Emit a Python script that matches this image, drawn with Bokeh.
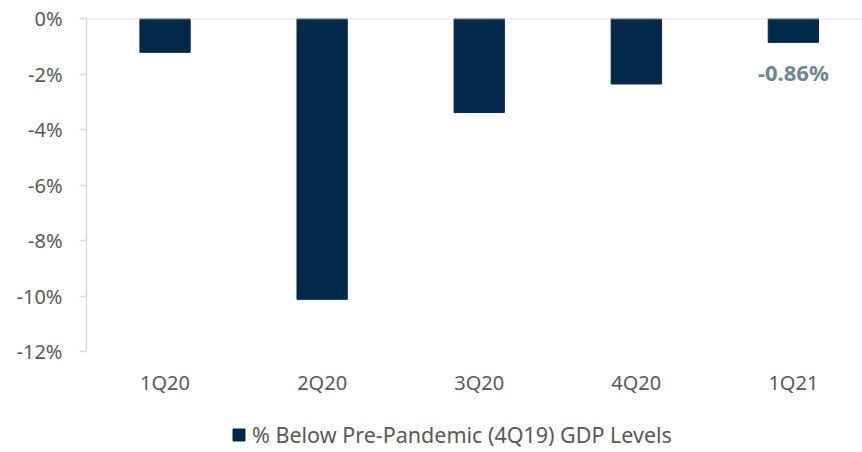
from bokeh.plotting import figure
from bokeh.layouts import column
from bokeh.models import (ColumnDataSource, Range1d, FixedTicker, PrintfTickFormatter,
                          Span, Legend, LegendItem)
from bokeh.core.properties import value
from bokeh.embed import file_html
from bokeh.resources import INLINE

categories = ["1Q20", "2Q20", "3Q20", "4Q20", "1Q21"]
gdp_gap = [-1.22, -10.12, -3.39, -2.36, -0.86]
y_ticks = [0, -2, -4, -6, -8, -10, -12]
series_name = "% Below Pre-Pandemic (4Q19) GDP Levels"

FONT = "Noto Sans"
TXT = "#595959"
BAR = "#022949"

xpos = [i + 0.5 for i in range(len(categories))]
src = ColumnDataSource(dict(x=xpos, top=[0] * len(gdp_gap), bottom=gdp_gap, cat=categories))
lab = ColumnDataSource(dict(x=[xpos[-1]], y=[gdp_gap[-1]],
                            t=["%.2f%%" % gdp_gap[-1]]))

p = figure(width=862, height=398, output_backend="svg", toolbar_location=None,
           x_range=Range1d(0, 4.94), y_range=Range1d(-12, 0),
           min_border_left=86, min_border_top=18, min_border_right=0, min_border_bottom=46)
p.outline_line_color = None
p.xgrid.grid_line_color = None
p.ygrid.grid_line_color = None
p.background_fill_color = "white"
p.border_fill_color = "white"

r = p.vbar(x="x", top="top", bottom="bottom", width=0.32, source=src,
           fill_color=BAR, line_color=BAR)

p.text(x="x", y="y", text="t", source=lab, text_align="center", text_baseline="top",
       y_offset=15, text_font=value(FONT), text_font_size="22px",
       text_font_style="bold", text_color="#6b8796")

zero = Span(location=0, dimension="width", line_color="#d9d9d9", line_width=1.5)
p.add_layout(zero)

# y axis
p.yaxis.ticker = FixedTicker(ticks=y_ticks)
p.yaxis.formatter = PrintfTickFormatter(format="%d%%")
p.yaxis.axis_line_color = "#d9d9d9"
p.yaxis.axis_line_width = 1.5
p.yaxis.major_tick_line_color = "#d9d9d9"
p.yaxis.major_tick_line_width = 1.5
p.yaxis.major_tick_out = 7
p.yaxis.major_tick_in = 0
p.yaxis.minor_tick_line_color = None
p.yaxis.major_label_standoff = 17
p.yaxis.major_label_text_font = FONT
p.yaxis.major_label_text_font_size = "20px"
p.yaxis.major_label_text_color = TXT

# x axis
p.xaxis.ticker = FixedTicker(ticks=xpos)
p.xaxis.major_label_overrides = {x: c for x, c in zip(xpos, categories)}
p.xaxis.axis_line_color = None
p.xaxis.major_tick_line_color = None
p.xaxis.minor_tick_line_color = None
p.xaxis.major_label_standoff = 11
p.xaxis.major_label_text_font = FONT
p.xaxis.major_label_text_font_size = "20px"
p.xaxis.major_label_text_color = TXT

# legend strip (same series, bars kept outside its visible range)
lf = figure(width=862, height=54, output_backend="svg", toolbar_location=None,
            x_axis_location=None, y_axis_location=None,
            x_range=Range1d(0, 4.94), y_range=Range1d(100, 101),
            min_border_left=0, min_border_right=0, min_border_top=0, min_border_bottom=0)
lf.outline_line_color = None
lf.xgrid.grid_line_color = None
lf.ygrid.grid_line_color = None
lr = lf.vbar(x="x", top="top", bottom="bottom", width=0.32, source=src,
             fill_color=BAR, line_color=BAR)

legend = Legend(items=[LegendItem(label=series_name, renderers=[lr])],
                location=(145, 3), orientation="horizontal",
                border_line_color=None, background_fill_alpha=0,
                glyph_width=15, glyph_height=15, label_standoff=6,
                label_text_font=FONT, label_text_font_size="21.5px",
                label_text_color=TXT, margin=0, padding=0)
lf.add_layout(legend)

open("out.html", "w").write(file_html(column(p, lf, spacing=0), INLINE))
